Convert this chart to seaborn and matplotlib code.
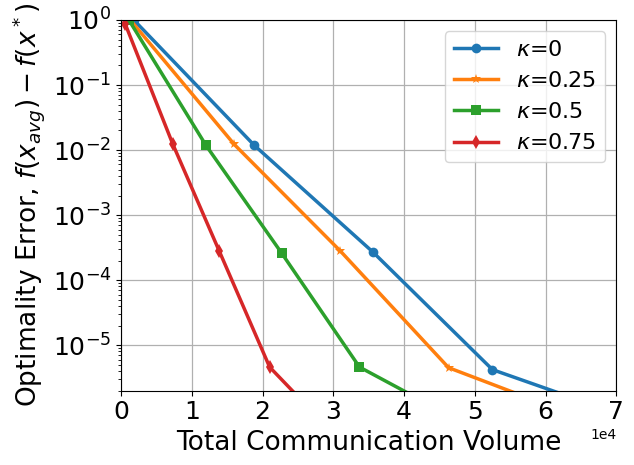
import numpy as np
import pandas as pd
import matplotlib
matplotlib.use("Agg")
import matplotlib.pyplot as plt
import seaborn as sns

# Values
kappas = ["0", "0.25", "0.5", "0.75"]
volume_k0 = [1800, 18800, 35600, 52500, 69400]
error_k0 = [1.0, 1.19e-2, 2.7e-4, 4.2e-6, 9.5e-7]
volume_k25 = [1300, 16000, 31000, 46300, 61600]
error_k25 = [1.0, 1.22e-2, 2.8e-4, 4.5e-6, 1.05e-6]
volume_k50 = [1100, 12000, 22700, 33700, 44700]
error_k50 = [1.0, 1.18e-2, 2.6e-4, 4.6e-6, 1.05e-6]
volume_k75 = [600, 7300, 13900, 21000, 27900]
error_k75 = [0.86, 1.24e-2, 2.76e-4, 4.6e-6, 7.6e-7]

volumes = [volume_k0, volume_k25, volume_k50, volume_k75]
errors = [error_k0, error_k25, error_k50, error_k75]

rows = []
for k, xs, ys in zip(kappas, volumes, errors):
    for x, y in zip(xs, ys):
        rows.append({"volume": x, "error": y, "kappa": r"$\kappa$=" + k})
df = pd.DataFrame(rows)

labels = [r"$\kappa$=" + k for k in kappas]
colors = sns.color_palette("tab10", 4)
markers = dict(zip(labels, ["o", "*", "s", "d"]))

fig, ax = plt.subplots(figsize=(6.34, 4.65), dpi=100)
sns.lineplot(data=df, x="volume", y="error", hue="kappa", style="kappa",
             hue_order=labels, style_order=labels, palette=colors,
             markers=markers, dashes=False, linewidth=2.5, markersize=7,
             markeredgewidth=0, sort=False, ax=ax)

ax.set_yscale("log")
ax.set_xlim(0, 70000)
ax.set_ylim(2e-6, 1)
ax.set_xticks(np.arange(0, 70001, 10000))
ax.set_yticks([1e0, 1e-1, 1e-2, 1e-3, 1e-4, 1e-5])
ax.grid(True, which="major", color="#b0b0b0", linewidth=0.9)
ax.ticklabel_format(axis="x", style="sci", scilimits=(4, 4))
ax.xaxis.get_offset_text().set_fontsize(10)
ax.tick_params(axis="both", labelsize=18)
ax.set_xlabel("Total Communication Volume", fontsize=19)
ax.set_ylabel(r"Optimality Error, $f(x_{avg})-f(x^*)$", fontsize=19)
ax.legend(fontsize=16, loc="upper right")

fig.subplots_adjust(left=0.191, right=0.972, top=0.957, bottom=0.16)
fig.savefig("out.png", dpi=100)
